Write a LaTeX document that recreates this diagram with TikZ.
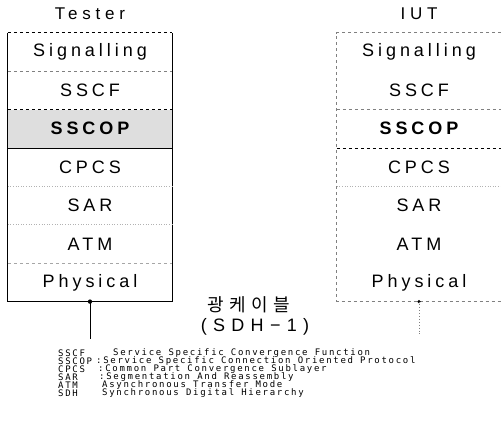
\documentclass[tikz,border=0pt]{standalone}
\usepackage{fontspec}
\setmainfont{Liberation Sans}
\newfontfamily\layerfont[LetterSpace=22]{Liberation Sans}
\newfontfamily\titlefont[LetterSpace=28]{Liberation Sans}
\newfontfamily\sdhfont[LetterSpace=35]{Liberation Sans}
\newfontfamily\legendfont[LetterSpace=19]{DejaVu Sans Mono}
\newfontfamily\krfont[LetterSpace=30]{Noto Sans CJK KR}
\usetikzlibrary{positioning}

\begin{document}
\begin{tikzpicture}[x=1pt, y=-1pt,
  layer/.style={minimum width=164pt, minimum height=38pt, inner sep=0pt,
    font=\fontsize{18}{20}\layerfont},
  title/.style={font=\fontsize{17}{19}\titlefont},
  divider/.style={gray, dashed, line width=0.6pt},
  legend/.style={anchor=west, inner sep=0pt, font=\fontsize{9}{9}\legendfont}]

  \useasboundingbox (0,0) rectangle (501,422);

  % Tester stack
  \node[title] (ttitle) at (90,14) {Tester};
  \node[layer] (tsig) at (90,52) {Signalling};
  \node[layer, below=0pt of tsig] (tsscf) {SSCF};
  \node[layer, below=0pt of tsscf, fill=black!13] (tsscop) {\bfseries SSCOP};
  \node[layer, below=0pt of tsscop] (tcpcs) {CPCS};
  \node[layer, below=0pt of tcpcs] (tsar) {SAR};
  \node[layer, below=0pt of tsar] (tatm) {ATM};
  \node[layer, below=0pt of tatm] (tphy) {Physical};

  % Tester frame and layer borders
  \draw[line width=1.3pt] (tsig.north west) -- (tphy.south west) -- (tphy.south east) -- (tsig.north east);
  \draw[line width=0.8pt, dashed] (tsig.north west) -- (tsig.north east);
  \draw[divider] (tsig.south west) -- (tsig.south east);
  \draw[divider, black] (tsscf.south west) -- (tsscf.south east);
  \draw[line width=0.8pt] (tsscop.south west) -- (tsscop.south east);
  \draw[divider, gray!60, dotted] (tcpcs.south west) -- (tcpcs.south east);
  \draw[divider, gray!60, dotted] (tsar.south west) -- (tsar.south east);
  \draw[divider, gray!70] (tatm.south west) -- (tatm.south east);

  % IUT stack
  \node[title] (ititle) at (419,14) {IUT};
  \node[layer] (isig) at (419,52) {Signalling};
  \node[layer, below=0pt of isig] (isscf) {SSCF};
  \node[layer, below=0pt of isscf] (isscop) {\bfseries SSCOP};
  \node[layer, below=0pt of isscop] (icpcs) {CPCS};
  \node[layer, below=0pt of icpcs] (isar) {SAR};
  \node[layer, below=0pt of isar] (iatm) {ATM};
  \node[layer, below=0pt of iatm] (iphy) {Physical};

  % IUT frame (right side cut by the page)
  \draw[gray, dashed, line width=0.7pt] (isig.north east) -- (isig.north west) -- (iphy.south west) -- (iphy.south east);
  \draw[divider] (isscf.south west) -- (isscf.south east);
  \draw[divider, black, line width=0.8pt] (isscop.south west) -- (isscop.south east);
  \draw[divider, gray!60, dotted] (icpcs.south west) -- (icpcs.south east);

  % Fibre link
  \coordinate[below=37pt of tphy.south] (tend);
  \coordinate[below=33pt of iphy.south] (iend);
  \fill (tphy.south) circle (2.2pt);
  \draw[line width=0.9pt] (tphy.south) -- (tend);
  \fill (iphy.south) circle (1.8pt);
  \draw[gray, dotted, line width=0.9pt] (iphy.south) -- (iend);

  \node[font=\fontsize{18}{20}\krfont] (cable) at (249,305) {광케이블};
  \node[font=\fontsize{18}{20}\sdhfont] (sdh) at (255,327) {(SDH−1)};

  % Abbreviations
  \node[legend] (asscf) at (58,353) {SSCF};
  \node[legend] (asscop) at (58,361) {SSCOP};
  \node[legend] (acpcs) at (58,369) {CPCS};
  \node[legend] (asar) at (58,377) {SAR};
  \node[legend] (aatm) at (58,385) {ATM};
  \node[legend] (asdh) at (58,393) {SDH};
  \node[legend] (dsscf) at (113,353) {Service Specific Convergence Function};
  \node[legend] (dsscop) at (96,361) {:Service Specific Connection Oriented Protocol};
  \node[legend] (dcpcs) at (98,369) {:Common Part Convergence Sublayer};
  \node[legend] (dsar) at (99,377) {:Segmentation And Reassembly};
  \node[legend] (datm) at (102,385) {Asynchronous Transfer Mode};
  \node[legend] (dsdh) at (102,393) {Synchronous Digital Hierarchy};

\end{tikzpicture}
\end{document}
